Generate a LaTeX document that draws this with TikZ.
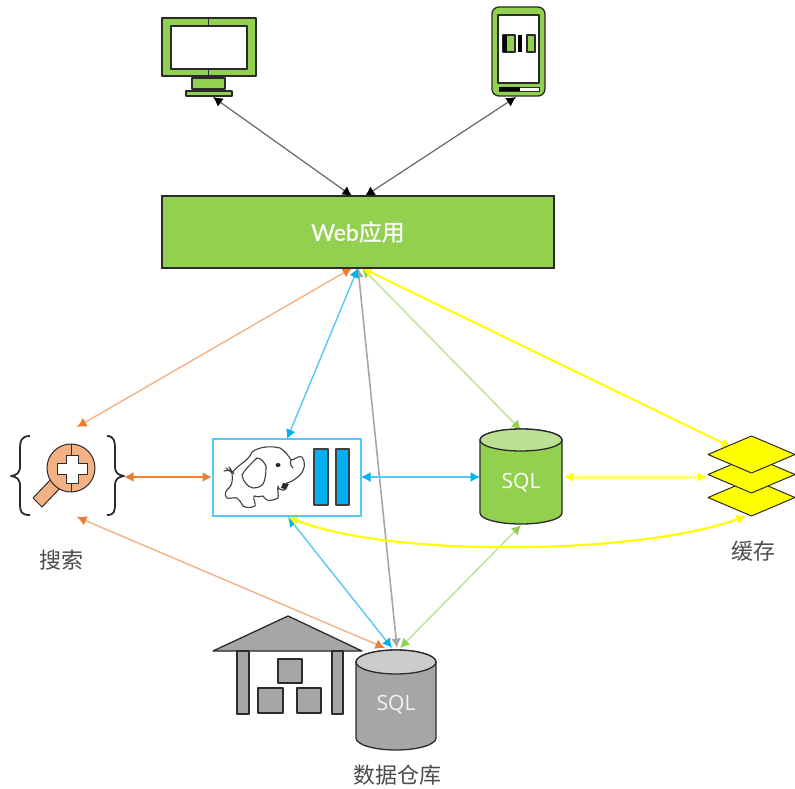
\documentclass[tikz,border=0pt]{standalone}
\usepackage{fontspec}
\setmainfont{Open Sans}
\newfontfamily\cjk{Noto Sans CJK SC}
\newfontfamily\latoface[FakeBold=0.5]{Lato}
\newfontfamily\cjkweb[FakeBold=0.5]{Noto Sans CJK SC}
\usetikzlibrary{arrows.meta}
\definecolor{grn}{HTML}{92D050}
\definecolor{ltgrn}{HTML}{C0E39A}
\definecolor{ltorg}{HTML}{F4B183}
\definecolor{org}{HTML}{ED7D31}
\definecolor{blu}{HTML}{00B0F0}
\definecolor{ltblu}{HTML}{55C8F7}
\definecolor{ylw}{HTML}{FFFF00}
\definecolor{gry}{HTML}{A6A6A6}
\definecolor{dk}{HTML}{2B2B2B}
\tikzset{
  x=1pt,y=-1pt,
  icon/.style={draw=dk,line width=1.3pt,line join=round},
  conn/.style n args={3}{line width=#1,draw=#2,{Latex[length=9.5pt,width=10pt,#3]}-{Latex[length=9.5pt,width=10pt,#3]}},
  label/.style={font=\cjk\fontsize{22}{26}\selectfont,text=black!70,inner sep=0pt},
  sqltext/.style={font=\fontsize{21}{24}\selectfont,text=white,inner sep=0pt},
}
\begin{document}
\begin{tikzpicture}
\useasboundingbox (0,0) rectangle (795,789);
% monitor
\draw[icon,fill=grn] (162,18) rectangle (256,76);
\draw[icon,fill=white] (171,26) rectangle (247,69);
\draw[icon,line width=.8pt] (208.5,18) -- (208.5,26) (208.5,69) -- (208.5,76);
\draw[icon,fill=grn] (192,78) rectangle (225,89);
\draw[icon,fill=grn] (186,91) rectangle (232,96);
% phone
\draw[icon,fill=grn,rounded corners=7pt] (492,7) rectangle (545,96);
\draw[icon,fill=white] (498,15) rectangle (539,83);
\draw[draw=dk,line width=.8pt,fill=white] (499,87) rectangle (539,91);
\fill[black] (499,87) rectangle (520,91);
\draw[icon,fill=grn] (503,35) rectangle (515,52);
\draw[icon,fill=grn] (527,35) rectangle (535,52);
\fill[black] (517.5,35) rectangle (522,52);
\fill[black] (503,35) rectangle (507,52);
% anchors of the connectors
\coordinate (monA) at (213,97);
\coordinate (phoA) at (516,97);
\coordinate (webT1) at (352,196);
\coordinate (webT2) at (365,196);
\coordinate (webB1) at (352,268);
\coordinate (webB2) at (358,268);
\coordinate (webB3) at (362,268);
\coordinate (srchT) at (77,427);
\coordinate (srchB) at (77,517);
\coordinate (srchR) at (124,477);
\coordinate (hadT) at (287,439);
\coordinate (hadL) at (212,477);
\coordinate (hadR) at (361,477);
\coordinate (hadB) at (288,517);
\coordinate (sqlT) at (521,430);
\coordinate (sqlL) at (480,477);
\coordinate (sqlR) at (564,477);
\coordinate (sqlB) at (521,525);
\coordinate (cacT) at (731,447);
\coordinate (cacL) at (707,477);
\coordinate (cacB) at (746,516);
\coordinate (dwO) at (385,648);
\coordinate (dwB) at (392,648);
\coordinate (dwG) at (397,648);
\coordinate (dwL) at (400,648);
% connectors
\draw[conn={1.2pt}{black!60}{black}] (monA) -- (webT1);
\draw[conn={1.2pt}{black!60}{black}] (phoA) -- (webT2);
\draw[conn={1.4pt}{ltorg}{org}] (webB1) -- (srchT);
\draw[conn={1.4pt}{ltorg}{org}] (srchB) -- (dwO);
\draw[conn={1.6pt}{gry}{gry}] (webB2) -- (dwG);
\draw[conn={1.5pt}{ltgrn}{grn}] (webB3) -- (sqlT);
\draw[conn={1.5pt}{ltgrn}{grn}] (sqlB) -- (dwL);
\draw[conn={1.4pt}{ltblu}{blu}] (webB2) -- (hadT);
\draw[conn={1.4pt}{ltblu}{blu}] (hadB) -- (dwB);
\draw[conn={1.4pt}{ltblu}{blu}] (hadR) -- (sqlL);
\draw[conn={2pt}{ylw}{ylw}] (webB3) -- (cacT);
\draw[conn={2.4pt}{org}{org}] (srchR) -- (hadL);
\draw[conn={3pt}{ylw!50}{ylw}] (sqlR) -- (cacL);
\draw[conn={2.2pt}{ylw}{ylw}] (hadB) .. controls (390,558) and (640,555) .. (cacB);
% web application
\node[draw=dk,line width=1.3pt,fill=grn,minimum width=392pt,minimum height=72pt,inner sep=0pt,text=white,font=\latoface\fontsize{23}{27}\selectfont] (web) at (358,232) {Web\cjkweb 应用};
% search icon
\draw[icon,line width=1.8pt,fill=none] (30,436) .. controls (21,436) and (20,441) .. (20,450) -- (20,466) .. controls (20,473) and (17,475) .. (11,476) .. controls (17,477) and (20,479) .. (20,486) -- (20,503) .. controls (20,512) and (21,515) .. (30,515);
\draw[icon,line width=1.8pt,fill=none] (107,436) .. controls (114,436) and (115,441) .. (115,450) -- (115,466) .. controls (115,473) and (118,475) .. (124,476) .. controls (118,477) and (115,479) .. (115,486) -- (115,503) .. controls (115,512) and (114,515) .. (107,515);
\draw[icon,line width=1pt,fill=ltorg] (54,476) -- (33,498) -- (42,507) -- (63,485) -- cycle;
\draw[icon,line width=1pt,fill=ltorg] (71,468) circle (24pt);
\draw[icon,line width=.8pt] (71,444) -- (71,492);
\draw[icon,line width=1pt,fill=white] (66,455) -- (78,455) -- (78,463) -- (87,463) -- (87,474) -- (78,474) -- (78,483) -- (66,483) -- (66,474) -- (57,474) -- (57,463) -- (66,463) -- cycle;
\node[label] (srchlabel) at (61,560) {搜索};
% hadoop box
\draw[line width=1.5pt,draw=ltblu,fill=white] (213,439) rectangle (361,516);
\draw[icon,fill=blu,draw=black!75] (314,449) rectangle (328,505);
\draw[icon,fill=blu,draw=black!75] (336,449) rectangle (349,505);
% elephant
\begin{scope}[line width=1.1pt,draw=black!75,line join=round,line cap=round]
\draw[fill=white] (232,473)
 .. controls (238,464) and (248,462) .. (252,452)
 .. controls (260,446) and (272,446) .. (280,448)
 .. controls (285,451) and (288,455) .. (291,460)
 .. controls (295,460) and (298,455) .. (302,457)
 .. controls (306,462) and (305,470) .. (300,475)
 .. controls (296,479) and (291,482) .. (287,483)
 .. controls (288,488) and (285,491) .. (282,490)
 .. controls (279,490) and (278,488) .. (278,486)
 .. controls (277,491) and (279,495) .. (278,498)
 .. controls (274,500) and (270,501) .. (267,500)
 .. controls (265,499) and (264,497) .. (263,496)
 .. controls (260,497) and (257,497) .. (254,496)
 .. controls (253,500) and (256,503) .. (255,506)
 .. controls (251,508) and (246,508) .. (243,506)
 .. controls (241,503) and (240,500) .. (237,498)
 .. controls (234,497) and (230,499) .. (227,498)
 .. controls (224,495) and (225,491) .. (229,488)
 .. controls (232,485) and (233,480) .. (232,473) -- cycle;
\draw[fill=white] (257,458) .. controls (251,464) and (245,469) .. (242,475)
 .. controls (243,482) and (248,487) .. (253,488)
 .. controls (258,488) and (263,486) .. (264,482)
 .. controls (266,476) and (266,470) .. (266,466)
 .. controls (264,462) and (261,458) .. (257,458) -- cycle;
\draw (232,473) -- (226,468) (231,470) -- (224,471) (229,467) -- (234,474);
\fill[black!85] (278,465) ellipse (2.5pt and 2pt);
\draw (291,460) .. controls (290,464) and (291,467) .. (293,468);
\fill[black!85] (283,483) -- (289,484) -- (285,489) -- (281,488) -- cycle;
\end{scope}
% SQL store
\draw[icon,fill=grn] (480,440) -- (480,513) arc[x radius=41pt,y radius=11pt,start angle=180,end angle=360] -- (562,440) arc[x radius=41pt,y radius=11pt,start angle=0,end angle=180] -- cycle;
\draw[icon,fill=ltgrn!90!grn] (521,440) ellipse (41pt and 11pt);
\node[sqltext] (sqlA) at (521,483) {SQL};
% cache
\draw[icon,line width=1pt,fill=ylw] (751.5,479) -- (795,497.5) -- (751.5,516) -- (708,497.5) -- cycle;
\draw[icon,line width=1pt,fill=ylw] (751.5,456) -- (795,474.5) -- (751.5,493) -- (708,474.5) -- cycle;
\draw[icon,line width=1pt,fill=ylw] (751.5,436) -- (795,454.5) -- (751.5,473) -- (708,454.5) -- cycle;
\node[label] (caclabel) at (753,551) {缓存};
% warehouse
\draw[icon,fill=gry] (288,616) -- (362,651) -- (213,651) -- cycle;
\draw[icon,fill=gry] (237,651) rectangle (249,714);
\draw[icon,fill=gry] (332,651) rectangle (343,714);
\draw[icon,fill=gry] (278,659) rectangle (302,683);
\draw[icon,fill=gry] (258,688) rectangle (283,713);
\draw[icon,fill=gry] (297,688) rectangle (321,713);
% warehouse SQL
\draw[icon,fill=gry] (356,662) -- (356,738) arc[x radius=40pt,y radius=12pt,start angle=180,end angle=360] -- (436,662) arc[x radius=40pt,y radius=12pt,start angle=0,end angle=180] -- cycle;
\draw[icon,fill=black!20] (396,662) ellipse (40pt and 12pt);
\node[sqltext,text=white!90!gray] (sqlB2) at (396,705) {SQL};
\node[label] (dwlabel) at (397,775) {数据仓库};
\end{tikzpicture}
\end{document}
